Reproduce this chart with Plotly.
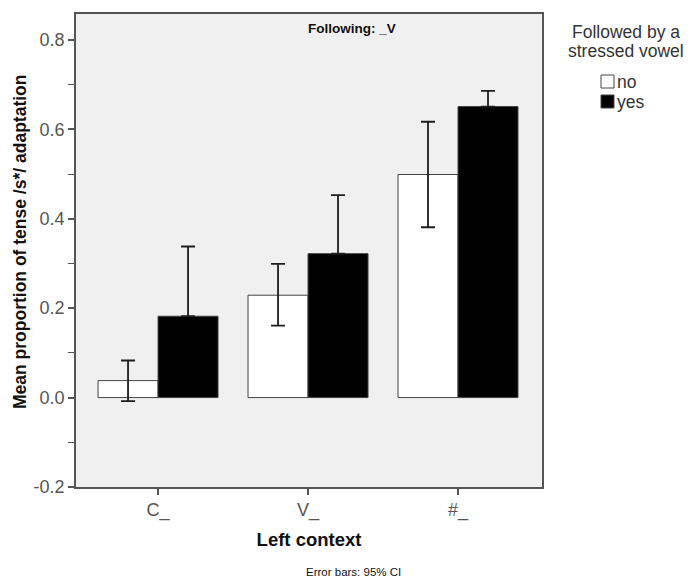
import plotly.graph_objects as go

# Left-context categories and group labels
contexts = ["C_", "V_", "#_"]
groups = ["no", "yes"]
group_fill = ["white", "black"]

# Mean proportion of tense /s*/ adaptation per group
mean_no = [0.038, 0.229, 0.499]
mean_yes = [0.182, 0.322, 0.651]

# 95% CI bounds per group (lower whisker of the black bars sits inside the bar)
upper_no = [0.083, 0.299, 0.617]
lower_no = [-0.008, 0.161, 0.381]
upper_yes = [0.338, 0.453, 0.686]

y_ticks = [-0.2, 0.0, 0.2, 0.4, 0.6, 0.8]
y_tick_text = ["-0.2", "0.0", "0.2", "0.4", "0.6", "0.8"]

FONT = "Liberation Sans, Arial, sans-serif"

# plot-area geometry in pixels
W, H = 690, 580
L, R, T, B = 76, 148, 14, 93
PW, PH = W - L - R, H - T - B


def px(x):
    return (x - L) / PW


def py(y):
    return 1 - (y - T) / PH


def err(up, mean, minus):
    return dict(
        type="data",
        symmetric=False,
        array=[u - m for u, m in zip(up, mean)],
        arrayminus=minus,
        color="#1e1e1e",
        thickness=1.8,
        width=7,
    )


fig = go.Figure()
fig.add_trace(go.Bar(
    name=groups[0], x=contexts, y=mean_no,
    marker=dict(color=group_fill[0], line=dict(color="#444444", width=1)),
    error_y=err(upper_no, mean_no, [m - l for m, l in zip(mean_no, lower_no)]),
))
fig.add_trace(go.Bar(
    name=groups[1], x=contexts, y=mean_yes,
    marker=dict(color=group_fill[1], line=dict(color="#444444", width=1)),
    error_y=err(upper_yes, mean_yes, [0] * len(mean_yes)),
))

fig.update_layout(
    width=W, height=H,
    margin=dict(l=L, r=R, t=T, b=B),
    paper_bgcolor="white",
    plot_bgcolor="#f0f0f0",
    barmode="group",
    bargap=0.2,
    bargroupgap=0,
    font=dict(family=FONT, color="#333333"),
    showlegend=False,
)

fig.update_xaxes(
    type="category",
    range=[-0.547, 2.56],
    showline=True, linecolor="#555555", linewidth=1.5, mirror=True,
    ticks="outside", ticklen=6, tickwidth=1.5, tickcolor="#555555",
    showgrid=False, zeroline=False,
    tickfont=dict(size=18, color="#555555"),
    title=dict(text="<b>Left context</b>", font=dict(size=18.5, color="#111111"), standoff=13),
)

fig.update_yaxes(
    range=[-0.2, 0.858],
    tickvals=y_ticks, ticktext=y_tick_text,
    showline=True, linecolor="#555555", linewidth=1.5, mirror=True,
    ticks="outside", ticklen=6, tickwidth=1.5, tickcolor="#555555",
    minor=dict(dtick=0.1, ticks="outside", ticklen=6, tickwidth=1, tickcolor="#555555", showgrid=False),
    showgrid=False, zeroline=False,
    tickfont=dict(size=18, color="#555555"),
)

# y-axis title, set a little above the axis midpoint
fig.add_annotation(
    text="<b>Mean proportion of tense /s*/ adaptation</b>", xref="paper", yref="paper",
    x=px(20), y=py(242), xanchor="center", yanchor="middle", textangle=-90,
    showarrow=False, font=dict(size=17.5, color="#111111"),
)

# panel heading and footnote
fig.add_annotation(
    text="<b>Following: _V</b>", xref="paper", yref="paper",
    x=px(352), y=py(28), xanchor="center", yanchor="middle",
    showarrow=False, font=dict(size=13.5, color="#111111"),
)
fig.add_annotation(
    text="Error bars: 95% CI", xref="paper", yref="paper",
    x=px(353), y=py(572), xanchor="center", yanchor="middle",
    showarrow=False, font=dict(size=11.5, color="#111111"),
)

# legend: title lines, swatches and labels
for line, yc in (("Followed by a", 32), ("stressed vowel", 51)):
    fig.add_annotation(
        text=line, xref="paper", yref="paper", x=px(626), y=py(yc),
        xanchor="center", yanchor="middle", showarrow=False,
        font=dict(size=17.5, color="#333333"),
    )
for i, (name, fill) in enumerate(zip(groups, group_fill)):
    top = 75 + i * 20
    fig.add_shape(
        type="rect", xref="paper", yref="paper",
        x0=px(601), x1=px(614), y0=py(top + 13), y1=py(top),
        fillcolor=fill, line=dict(color="#444444", width=1),
    )
    fig.add_annotation(
        text=name, xref="paper", yref="paper", x=px(615), y=py(top + 7),
        xanchor="left", yanchor="middle", showarrow=False,
        font=dict(size=17.5, color="#333333"),
    )

fig.write_html("out.html")
